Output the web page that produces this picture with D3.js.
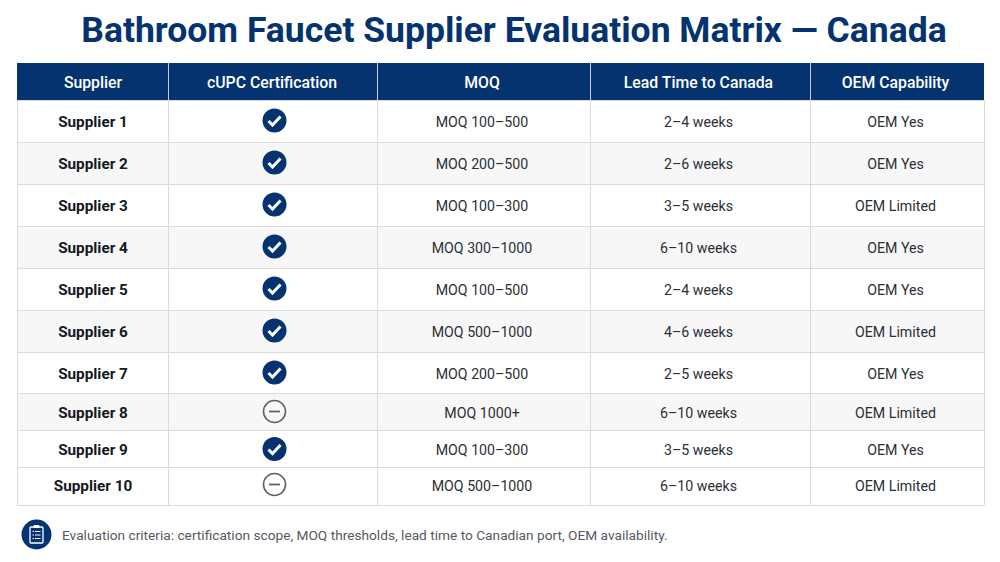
<!DOCTYPE html>
<html>
<head>
<meta charset="utf-8">
<script src="https://cdn.jsdelivr.net/npm/d3@7"></script>
<style>
  html, body { margin: 0; padding: 0; background: #fff; overflow: hidden; }
  text { font-family: Roboto, sans-serif; }
</style>
</head>
<body>
<div id="chart"></div>
<script>
// Table content
const headers = ['Supplier', 'cUPC Certification', 'MOQ', 'Lead Time to Canada', 'OEM Capability'];
const suppliers = ['Supplier 1', 'Supplier 2', 'Supplier 3', 'Supplier 4', 'Supplier 5',
  'Supplier 6', 'Supplier 7', 'Supplier 8', 'Supplier 9', 'Supplier 10'];
const certified = [true, true, true, true, true, true, true, false, true, false];
const moq = ['MOQ 100–500', 'MOQ 200–500', 'MOQ 100–300', 'MOQ 300–1000', 'MOQ 100–500',
  'MOQ 500–1000', 'MOQ 200–500', 'MOQ 1000+', 'MOQ 100–300', 'MOQ 500–1000'];
const leadTime = ['2–4 weeks', '2–6 weeks', '3–5 weeks', '6–10 weeks', '2–4 weeks',
  '4–6 weeks', '2–5 weeks', '6–10 weeks', '3–5 weeks', '6–10 weeks'];
const oem = ['OEM Yes', 'OEM Yes', 'OEM Limited', 'OEM Yes', 'OEM Yes',
  'OEM Limited', 'OEM Yes', 'OEM Limited', 'OEM Yes', 'OEM Limited'];
// the striping stops after Supplier 8, the last two rows are both white
const shadedRows = ['Supplier 2', 'Supplier 4', 'Supplier 6', 'Supplier 8'];

const titleText = 'Bathroom Faucet Supplier Evaluation Matrix — Canada';
const footnote = 'Evaluation criteria: certification scope, MOQ thresholds, lead time to Canadian port, OEM availability.';

const navy = '#04336f';
const gridColor = '#dadbde';

const width = 1000, height = 562;

const svg = d3.select('#chart').append('svg')
  .attr('width', width).attr('height', height)
  .style('display', 'block');

// Column and row geometry goes through ordinal scales
const colEdges = [17, 168, 377, 590, 810, 984];
const rowEdges = [100, 142, 184, 226, 268, 310, 352, 393, 430, 467, 505];
const headerTop = 63;

const y = d3.scaleOrdinal().domain(suppliers).range(rowEdges.slice(0, -1));
const yEnd = d3.scaleOrdinal().domain(suppliers).range(rowEdges.slice(1));
// labels do not sit exactly mid cell in the reference
const xLabel = d3.scaleOrdinal().domain(headers).range([93, 272, 482, 698.5, 895.5]);
const yLabel = d3.scaleOrdinal().domain(suppliers).range([121, 163, 205, 247, 289, 331, 373, 412, 449.5, 485]);

// Title
svg.append('text')
  .attr('x', 514).attr('y', 42)
  .attr('text-anchor', 'middle')
  .attr('font-size', 35.5).attr('font-weight', 700)
  .attr('fill', navy)
  .text(titleText);

// Header band
svg.append('rect')
  .attr('x', colEdges[0]).attr('y', headerTop)
  .attr('width', colEdges[5] - colEdges[0]).attr('height', rowEdges[0] - headerTop)
  .attr('fill', navy);

svg.selectAll('.head')
  .data(headers)
  .enter().append('text')
  .attr('class', 'head')
  .attr('x', d => xLabel(d))
  .attr('y', 88)
  .attr('text-anchor', 'middle')
  .attr('font-size', 15.8).attr('font-weight', 500)
  .attr('fill', '#fff')
  .text(d => d);

// Row stripes
svg.selectAll('.stripe')
  .data(suppliers)
  .enter().append('rect')
  .attr('class', 'stripe')
  .attr('x', colEdges[0]).attr('y', d => y(d))
  .attr('width', colEdges[5] - colEdges[0])
  .attr('height', d => yEnd(d) - y(d))
  .attr('fill', d => (shadedRows.includes(d) ? '#f7f7f8' : '#fff'));

// Grid lines
svg.selectAll('.hline')
  .data(rowEdges)
  .enter().append('line')
  .attr('class', 'hline')
  .attr('x1', colEdges[0]).attr('x2', colEdges[5])
  .attr('y1', d => d + 0.5).attr('y2', d => d + 0.5)
  .attr('stroke', gridColor);

svg.selectAll('.vline')
  .data(colEdges)
  .enter().append('line')
  .attr('class', 'vline')
  .attr('x1', d => d + 0.5).attr('x2', d => d + 0.5)
  .attr('y1', rowEdges[0]).attr('y2', rowEdges[10])
  .attr('stroke', gridColor);

// Thin light separators inside the header
svg.selectAll('.hsep')
  .data(colEdges.slice(1, -1))
  .enter().append('line')
  .attr('class', 'hsep')
  .attr('x1', d => d + 0.5).attr('x2', d => d + 0.5)
  .attr('y1', headerTop).attr('y2', rowEdges[0])
  .attr('stroke', '#c3cede');

// Supplier names
svg.selectAll('.name')
  .data(suppliers)
  .enter().append('text')
  .attr('class', 'name')
  .attr('x', xLabel(headers[0]))
  .attr('y', d => yLabel(d) + 5.5)
  .attr('text-anchor', 'middle')
  .attr('font-size', 15.3).attr('font-weight', 700)
  .attr('fill', '#14181f')
  .text(d => d);

// Text columns
[[headers[2], moq], [headers[3], leadTime], [headers[4], oem]].forEach(([col, values]) => {
  svg.selectAll('.c' + headers.indexOf(col))
    .data(values)
    .enter().append('text')
    .attr('class', 'c' + headers.indexOf(col))
    .attr('x', xLabel(col))
    .attr('y', (d, i) => yLabel(suppliers[i]) + 5.5)
    .attr('text-anchor', 'middle')
    .attr('font-size', 14.2)
    .attr('fill', '#2b2f36')
    .text(d => d);
});

// Certification icons
const icons = svg.selectAll('.icon')
  .data(suppliers)
  .enter().append('g')
  .attr('class', 'icon')
  .attr('transform', d => `translate(274.5,${yLabel(d) - 0.5})`);

icons.filter((d, i) => certified[i]).append('circle')
  .attr('r', 12).attr('fill', navy);
icons.filter((d, i) => certified[i]).append('path')
  .attr('d', 'M-6,0.5 L-2,4.5 L6,-4')
  .attr('fill', 'none').attr('stroke', '#fff')
  .attr('stroke-width', 3);

icons.filter((d, i) => !certified[i]).append('circle')
  .attr('r', 11).attr('fill', 'none')
  .attr('stroke', '#5f6368').attr('stroke-width', 1.6);
icons.filter((d, i) => !certified[i]).append('line')
  .attr('x1', -5.5).attr('x2', 5.5)
  .attr('stroke', '#5f6368').attr('stroke-width', 1.8);

// Footnote with clipboard badge
const badge = svg.append('g').attr('transform', 'translate(36.5,534.5)');
badge.append('circle').attr('r', 15).attr('fill', navy);
badge.append('rect')
  .attr('x', -6.5).attr('y', -7.5).attr('width', 13).attr('height', 16).attr('rx', 1)
  .attr('fill', 'none').attr('stroke', '#fff').attr('stroke-width', 1.3);
badge.append('rect')
  .attr('x', -3).attr('y', -9.5).attr('width', 6).attr('height', 3).attr('rx', 1)
  .attr('fill', '#fff');
badge.selectAll('.tick')
  .data([-3.5, 0, 3.5])
  .enter().append('line')
  .attr('class', 'tick')
  .attr('x1', -4).attr('x2', 4)
  .attr('y1', d => d + 0.5).attr('y2', d => d + 0.5)
  .attr('stroke', '#fff').attr('stroke-width', 1.1)
  .attr('stroke-dasharray', '1.5 1 6');

svg.append('text')
  .attr('x', 62).attr('y', 540)
  .attr('font-size', 13.7)
  .attr('fill', '#55595f')
  .text(footnote);
</script>
</body>
</html>
